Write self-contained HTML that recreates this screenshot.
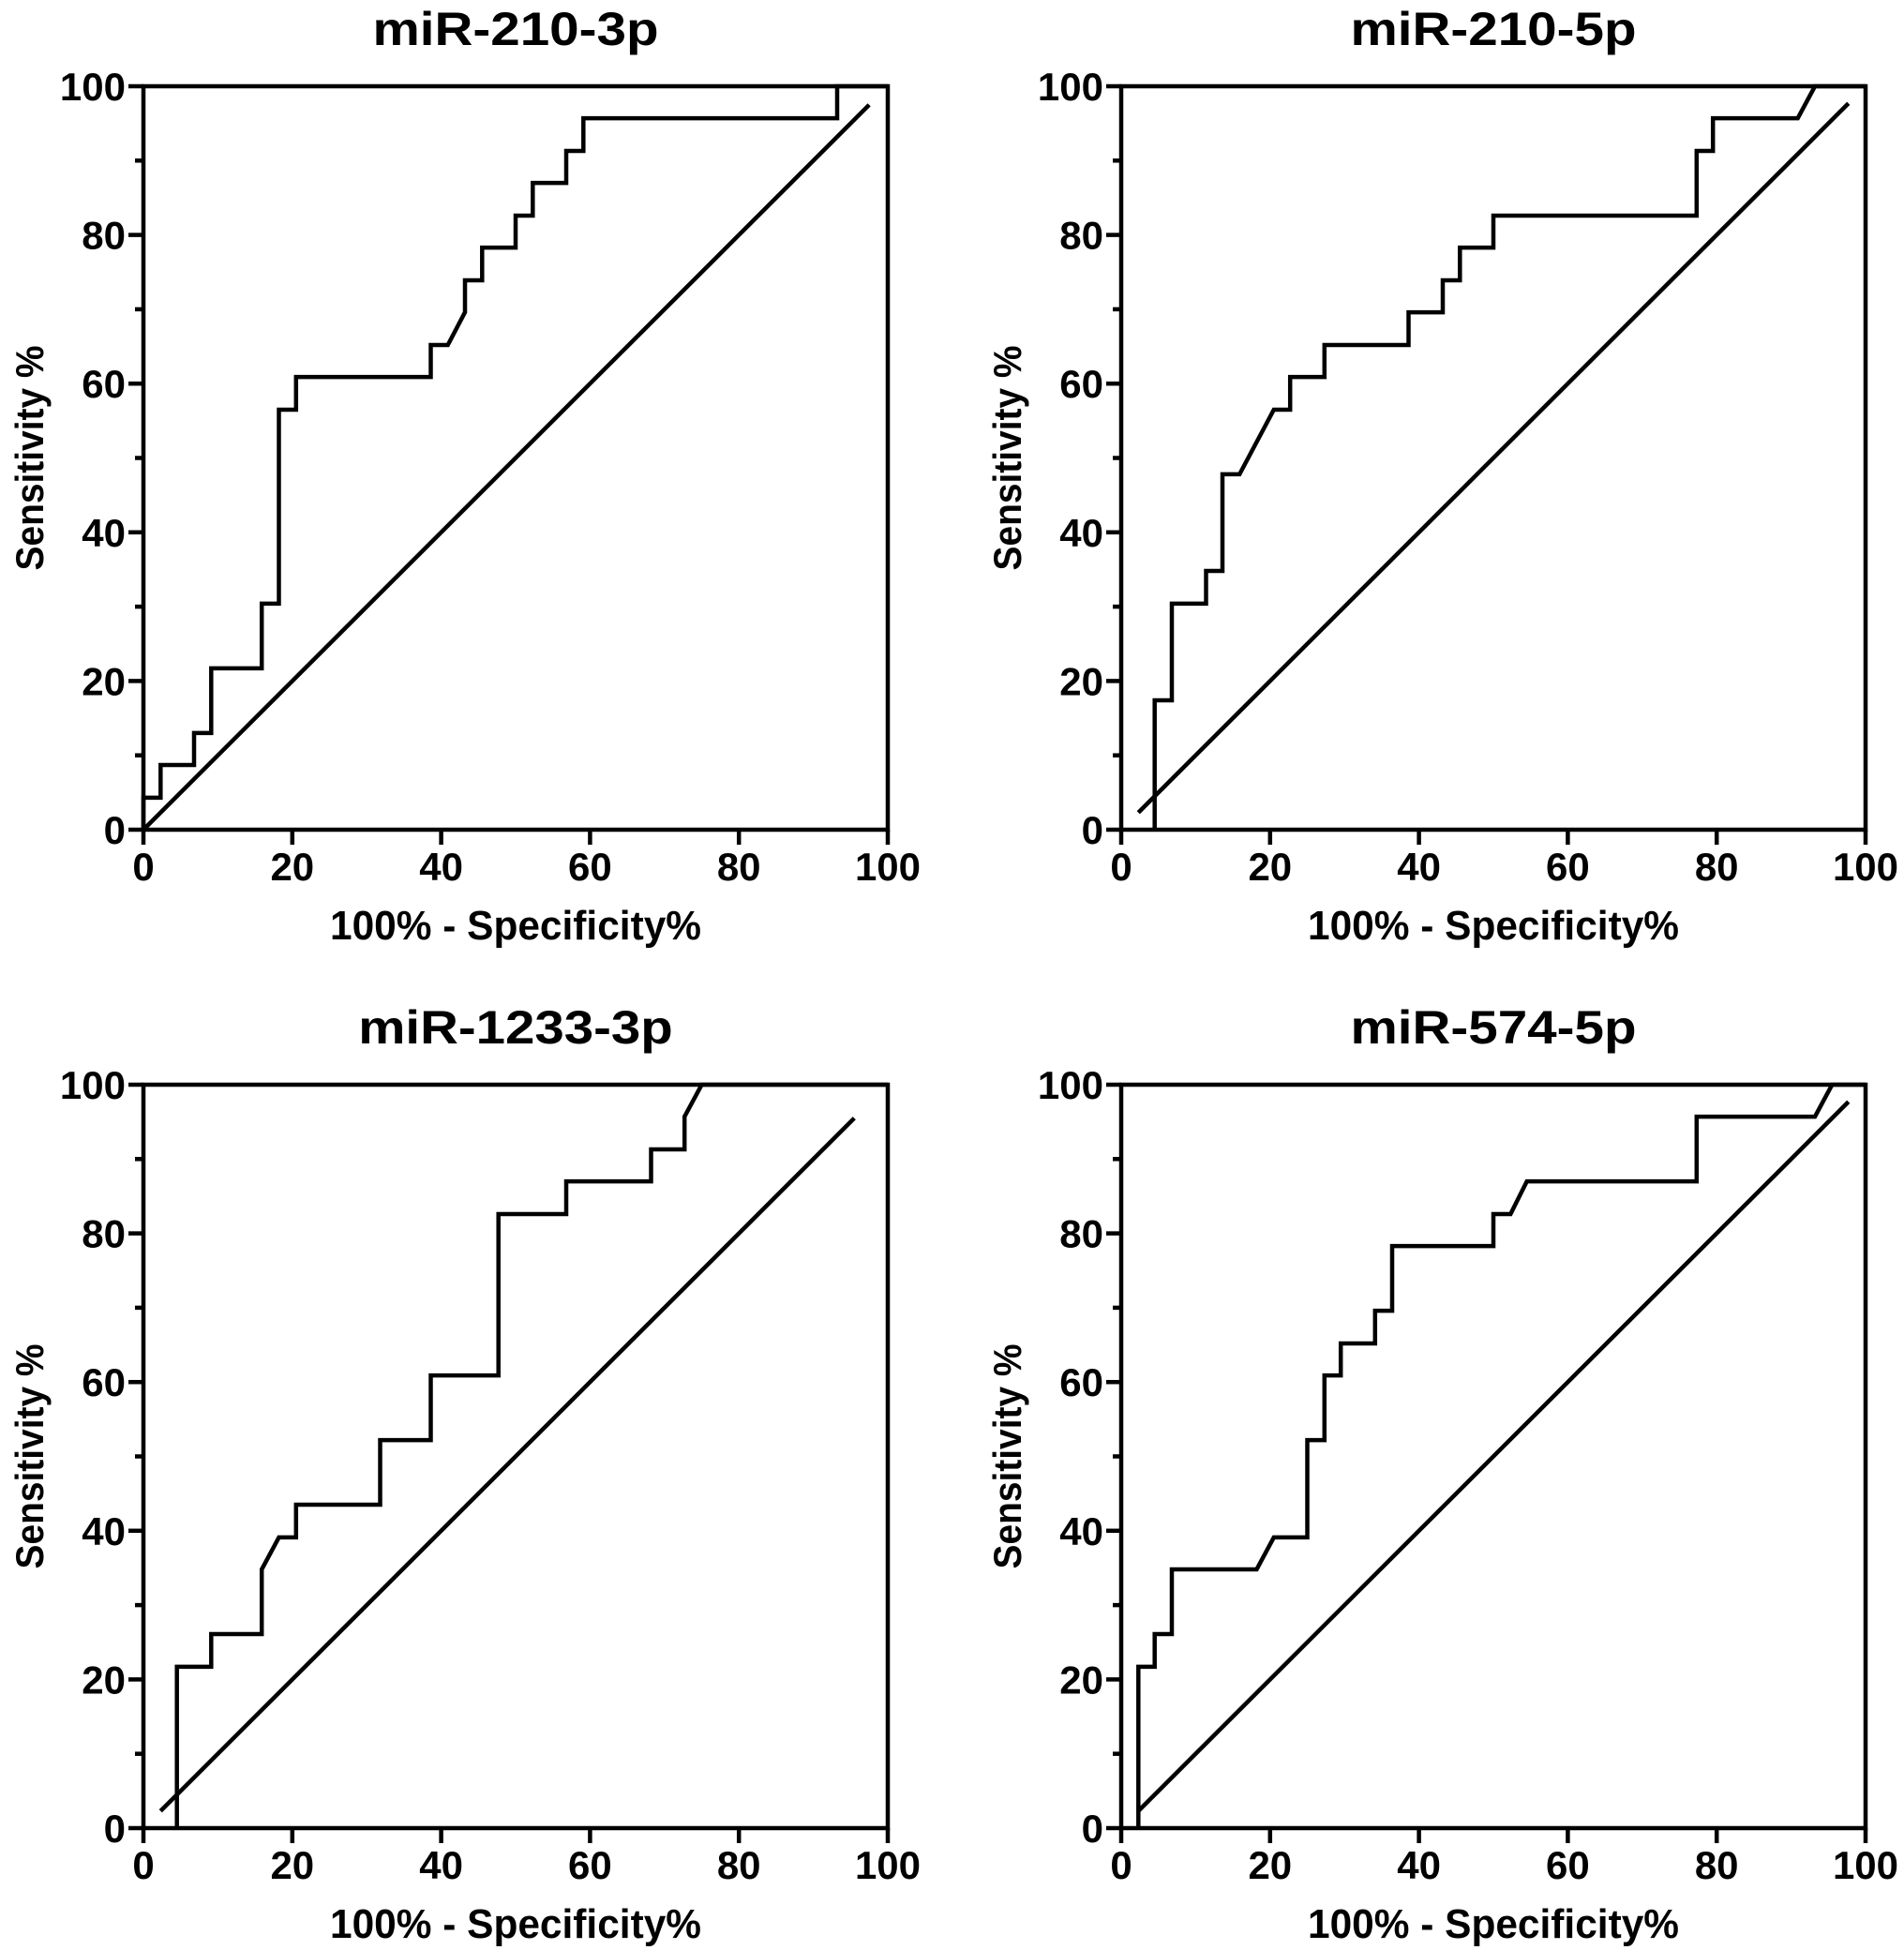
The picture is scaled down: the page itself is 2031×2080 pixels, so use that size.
<!DOCTYPE html>
<html><head><meta charset="utf-8"><style>
html,body{margin:0;padding:0;background:#fff;}
svg{display:block;}
text{font-family:"Liberation Sans",Arial,sans-serif;font-weight:bold;fill:#000;}
</style></head><body>
<svg id="chart" width="2031" height="2080" viewBox="0 0 2031 2080" xmlns="http://www.w3.org/2000/svg"></svg>
<script>
const titles = ["miR-210-3p","miR-210-5p","miR-1233-3p","miR-574-5p"];
const xTicks = [0,20,40,60,80,100];
const yTicks = [0,20,40,60,80,100];
const yMinor = [10,30,50,70,90];
const roc1X = [0,0,2.3,2.3,6.8,6.8,9.1,9.1,15.9,15.9,18.2,18.2,20.5,20.5,38.6,38.6,40.9,43.2,43.2,45.5,45.5,50,50,52.3,52.3,56.8,56.8,59.1,59.1,93.2,93.2,100];
const roc1Y = [0,4.3,4.3,8.7,8.7,13,13,21.7,21.7,30.4,30.4,56.5,56.5,60.9,60.9,65.2,65.2,69.6,73.9,73.9,78.3,78.3,82.6,82.6,87,87,91.3,91.3,95.7,95.7,100,100];
const roc2X = [4.5,4.5,6.8,6.8,11.4,11.4,13.6,13.6,15.9,20.5,22.7,22.7,27.3,27.3,38.6,38.6,43.2,43.2,45.5,45.5,50,50,77.3,77.3,79.5,79.5,90.9,93.2,100];
const roc2Y = [0,17.4,17.4,30.4,30.4,34.8,34.8,47.8,47.8,56.5,56.5,60.9,60.9,65.2,65.2,69.6,69.6,73.9,73.9,78.3,78.3,82.6,82.6,91.3,91.3,95.7,95.7,100,100];
const roc3X = [4.5,4.5,9.1,9.1,15.9,15.9,18.2,20.5,20.5,31.8,31.8,38.6,38.6,47.7,47.7,56.8,56.8,68.2,68.2,72.7,72.7,75,100];
const roc3Y = [0,21.7,21.7,26.1,26.1,34.8,39.1,39.1,43.5,43.5,52.2,52.2,60.9,60.9,82.6,82.6,87,87,91.3,91.3,95.7,100,100];
const roc4X = [2.3,2.3,4.5,4.5,6.8,6.8,18.2,20.5,25,25,27.3,27.3,29.5,29.5,34.1,34.1,36.4,36.4,50,50,52.3,54.5,77.3,77.3,93.2,95.5,100];
const roc4Y = [0,21.7,21.7,26.1,26.1,34.8,34.8,39.1,39.1,52.2,52.2,60.9,60.9,65.2,65.2,69.6,69.6,78.3,78.3,82.6,82.6,87,87,95.7,95.7,100,100];
const diagStart = [0,2.3,2.3,2.3];
const diagEnd = [97.5,97.7,95.5,97.7];

const rocX = [roc1X,roc2X,roc3X,roc4X];
const rocY = [roc1Y,roc2Y,roc3Y,roc4Y];
const origins = [[153,92],[1196,92],[153,1157],[1196,1157]];
const W = 794, H = 793;
const NS = "http://www.w3.org/2000/svg";
const svg = document.getElementById('chart');
function mk(tag, attrs, parent){
  const e = document.createElementNS(NS, tag);
  for (const k in attrs) e.setAttribute(k, attrs[k]);
  parent.appendChild(e); return e;
}
for (let p = 0; p < 4; p++) {
  const [L, T] = origins[p];
  const sx = v => L + v / 100 * W;
  const sy = v => T + H - v / 100 * H;
  const g = mk('g', {}, svg);
  
  
  const t = mk('text', {x: L + W / 2, y: T - 44, 'font-size': 50, 'text-anchor': 'middle', textLength: (titles[p].length * 30.5), lengthAdjust: 'spacingAndGlyphs'}, g);
  t.textContent = titles[p];
  
  
  const fr = mk('rect', {x: L, y: T, width: W, height: H, fill: 'none', stroke: '#000', 'stroke-width': 4.5}, g);
  
  
  xTicks.forEach(v => {
    const tk = mk('line', {x1: sx(v), x2: sx(v), y1: T + H, y2: T + H + 16, stroke: '#000', 'stroke-width': 4.5}, g);
    
    
    const lb = mk('text', {x: sx(v), y: T + H + 54, 'font-size': 42, 'text-anchor': 'middle'}, g);
    lb.textContent = v;
    
    
  });
  yTicks.forEach(v => {
    const tk = mk('line', {x1: L - 16, x2: L, y1: sy(v), y2: sy(v), stroke: '#000', 'stroke-width': 4.5}, g);
    
    
    const lb = mk('text', {x: L - 19, y: sy(v) + 15, 'font-size': 42, 'text-anchor': 'end'}, g);
    lb.textContent = v;
    
    
  });
  yMinor.forEach(v => {
    const tk = mk('line', {x1: L - 9, x2: L, y1: sy(v), y2: sy(v), stroke: '#000', 'stroke-width': 4.5}, g);
    
    
  });
  const xl = mk('text', {x: L + W / 2, y: T + H + 117, 'font-size': 44, 'text-anchor': 'middle', textLength: 396, lengthAdjust: 'spacingAndGlyphs'}, g);
  xl.textContent = '100% - Specificity%';
  
  
  const cy = T + H / 2, cx = L - 107;
  const yl = mk('text', {x: cx, y: cy, 'font-size': 42, 'text-anchor': 'middle', textLength: 240, lengthAdjust: 'spacingAndGlyphs', transform: `rotate(-90 ${cx} ${cy})`}, g);
  yl.textContent = 'Sensitivity %';
  
  
  const dg = mk('line', {x1: sx(diagStart[p]), y1: sy(diagStart[p]), x2: sx(diagEnd[p]), y2: sy(diagEnd[p]), stroke: '#000', 'stroke-width': 4.5}, g);
  
  
  const pts = rocX[p].map((x, i) => sx(x).toFixed(1) + ',' + sy(rocY[p][i]).toFixed(1)).join(' ');
  const pl = mk('polyline', {points: pts, fill: 'none', stroke: '#000', 'stroke-width': 4.5, 'stroke-linejoin': 'miter'}, g);
  
  
}
</script>
</body></html>
